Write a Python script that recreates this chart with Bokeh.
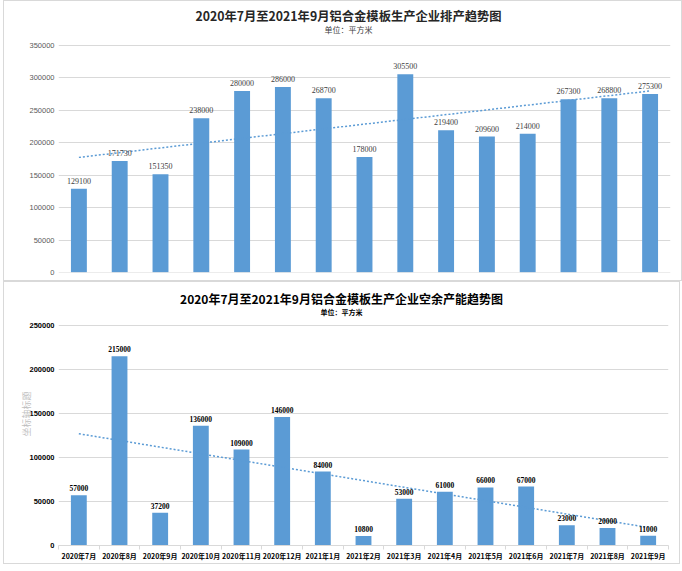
from bokeh.plotting import figure
from bokeh.layouts import column
from bokeh.models import (ColumnDataSource, LabelSet, Label, Range1d, FixedTicker, Span,
                          BasicTickFormatter)
from bokeh.embed import file_html
from bokeh.resources import INLINE

months = ["2020年7月", "2020年8月", "2020年9月", "2020年10月", "2020年11月", "2020年12月",
          "2021年1月", "2021年2月", "2021年3月", "2021年4月", "2021年5月", "2021年6月",
          "2021年7月", "2021年8月", "2021年9月"]
production = [129100, 171730, 151350, 238000, 280000, 286000, 268700, 178000,
              305500, 219400, 209600, 214000, 267300, 268800, 275300]
idle_capacity = [57000, 215000, 37200, 136000, 109000, 146000, 84000, 10800,
                 53000, 61000, 66000, 67000, 23000, 20000, 11000]
# linear trendline values at the first and last month
production_trend = [177500, 280000]
idle_trend = [127000, 20500]
top_ticks = [0, 50000, 100000, 150000, 200000, 250000, 300000, 350000]
bottom_ticks = [0, 50000, 100000, 150000, 200000, 250000]
title_top = "2020年7月至2021年9月铝合金模板生产企业排产趋势图"
title_bottom = "2020年7月至2021年9月铝合金模板生产企业空余产能趋势图"
unit_text = "单位：平方米"
axis_title = "坐标轴标题"

BAR = "#5b9bd5"
CJK = "Noto Sans CJK SC"
LAT = "Liberation Sans"


def build(w, h, left, right, bottom, grid_top_px, ymax, ticks):
    """Frame fills the top of the figure; y range is extended so that the
    highest tick sits grid_top_px below the top, leaving room for titles."""
    frame_h = h - bottom
    plot_h = frame_h - grid_top_px
    yext = ymax * frame_h / plot_h
    p = figure(width=w, height=h, output_backend="svg", toolbar_location=None,
               x_range=Range1d(-0.5, len(months) - 0.5), y_range=Range1d(0, yext),
               min_border_left=left, min_border_right=right, min_border_top=0,
               min_border_bottom=bottom)
    p.outline_line_color = None
    p.xgrid.grid_line_color = None
    p.ygrid.grid_line_color = "#d9d9d9"
    p.yaxis.ticker = FixedTicker(ticks=ticks)
    p.yaxis.axis_line_color = None
    p.yaxis.major_tick_line_color = None
    p.yaxis.minor_tick_line_color = None
    p.yaxis.major_tick_out = 0
    p.yaxis.major_label_standoff = 4
    p.yaxis.formatter = BasicTickFormatter(use_scientific=False)
    p.styles = {"border": "1px solid #d9d9d9", "box-sizing": "border-box"}
    p.margin = (0, 0, 0, 3)

    def at_px(py):
        return yext * (frame_h - py) / frame_h
    return p, at_px


x = list(range(len(months)))
ends = [x[0], x[-1]]
xc = (len(months) - 1) / 2

# ---------- top chart ----------
p1, px1 = build(679, 281, 36, 13, 10, 44, top_ticks[-1], top_ticks)
p1.yaxis.major_label_text_font = LAT
p1.yaxis.major_label_text_font_size = "7.5px"
p1.yaxis.major_label_text_color = "#595959"
p1.xaxis.visible = False
p1.add_layout(Span(location=0, dimension="width", line_color="#d9d9d9", line_width=1))
src1 = ColumnDataSource(dict(x=x, y=production, t=[str(v) for v in production]))
p1.vbar(x="x", top="y", width=0.39, source=src1, fill_color=BAR, line_color=None)
p1.line(ends, production_trend, line_color=BAR, line_width=1.5, line_dash="2 2")
p1.add_layout(LabelSet(x="x", y="y", text="t", source=src1, text_align="center",
                       y_offset=5, text_font=LAT, text_font_size="8px",
                       text_color="#404040"))
p1.add_layout(Label(x=xc, y=px1(14), x_offset=-16, text=title_top, text_align="center",
                    text_baseline="middle", text_font=CJK, text_font_size="12.3px",
                    text_font_style="bold", text_color="#262626"))
p1.add_layout(Label(x=xc, y=px1(28), x_offset=-16, text=unit_text, text_align="center",
                    text_baseline="middle", text_font=CJK, text_font_size="8px",
                    text_color="#404040"))

# ---------- bottom chart ----------
p2, px2 = build(677, 283, 54, 11, 20, 43, bottom_ticks[-1], bottom_ticks)
p2.yaxis.major_label_text_font = LAT
p2.yaxis.major_label_text_font_size = "7.5px"
p2.yaxis.major_label_text_font_style = "bold"
p2.yaxis.major_label_text_color = "#000000"
p2.yaxis.axis_label = axis_title
p2.yaxis.axis_label_text_font = CJK
p2.yaxis.axis_label_text_font_size = "9px"
p2.yaxis.axis_label_text_font_style = "normal"
p2.yaxis.axis_label_text_color = "#bfbfbf"
p2.yaxis.axis_label_standoff = -7
p2.xaxis.ticker = FixedTicker(ticks=x, minor_ticks=[i - 0.5 for i in range(len(months) + 1)])
p2.xaxis.major_label_overrides = {i: m for i, m in enumerate(months)}
p2.xaxis.major_tick_line_color = None
p2.xaxis.major_tick_out = 0
p2.xaxis.major_tick_in = 0
p2.xaxis.minor_tick_line_color = "#d9d9d9"
p2.xaxis.minor_tick_out = 4
p2.xaxis.minor_tick_in = 0
p2.xaxis.axis_line_color = "#d9d9d9"
p2.xaxis.major_label_standoff = 1
p2.xaxis.major_label_text_font = CJK
p2.xaxis.major_label_text_font_size = "7px"
p2.xaxis.major_label_text_font_style = "bold"
p2.xaxis.major_label_text_color = "#000000"
src2 = ColumnDataSource(dict(x=x, y=idle_capacity, t=[str(v) for v in idle_capacity]))
p2.vbar(x="x", top="y", width=0.39, source=src2, fill_color=BAR, line_color=None)
p2.line(ends, idle_trend, line_color=BAR, line_width=1.5, line_dash="2 2")
p2.add_layout(LabelSet(x="x", y="y", text="t", source=src2, text_align="center",
                       y_offset=4, text_font=LAT, text_font_size="7.5px",
                       text_font_style="bold", text_color="#000000"))
p2.add_layout(Label(x=xc, y=px2(16), x_offset=-22, text=title_bottom, text_align="center",
                    text_baseline="middle", text_font=CJK, text_font_size="12px",
                    text_font_style="bold", text_color="#000000"))
p2.add_layout(Label(x=xc, y=px2(29), x_offset=-22, text=unit_text, text_align="center",
                    text_baseline="middle", text_font=CJK, text_font_size="7px",
                    text_font_style="bold", text_color="#000000"))

layout = column(p1, p2, spacing=0)
open("out.html", "w").write(file_html(layout, INLINE))
